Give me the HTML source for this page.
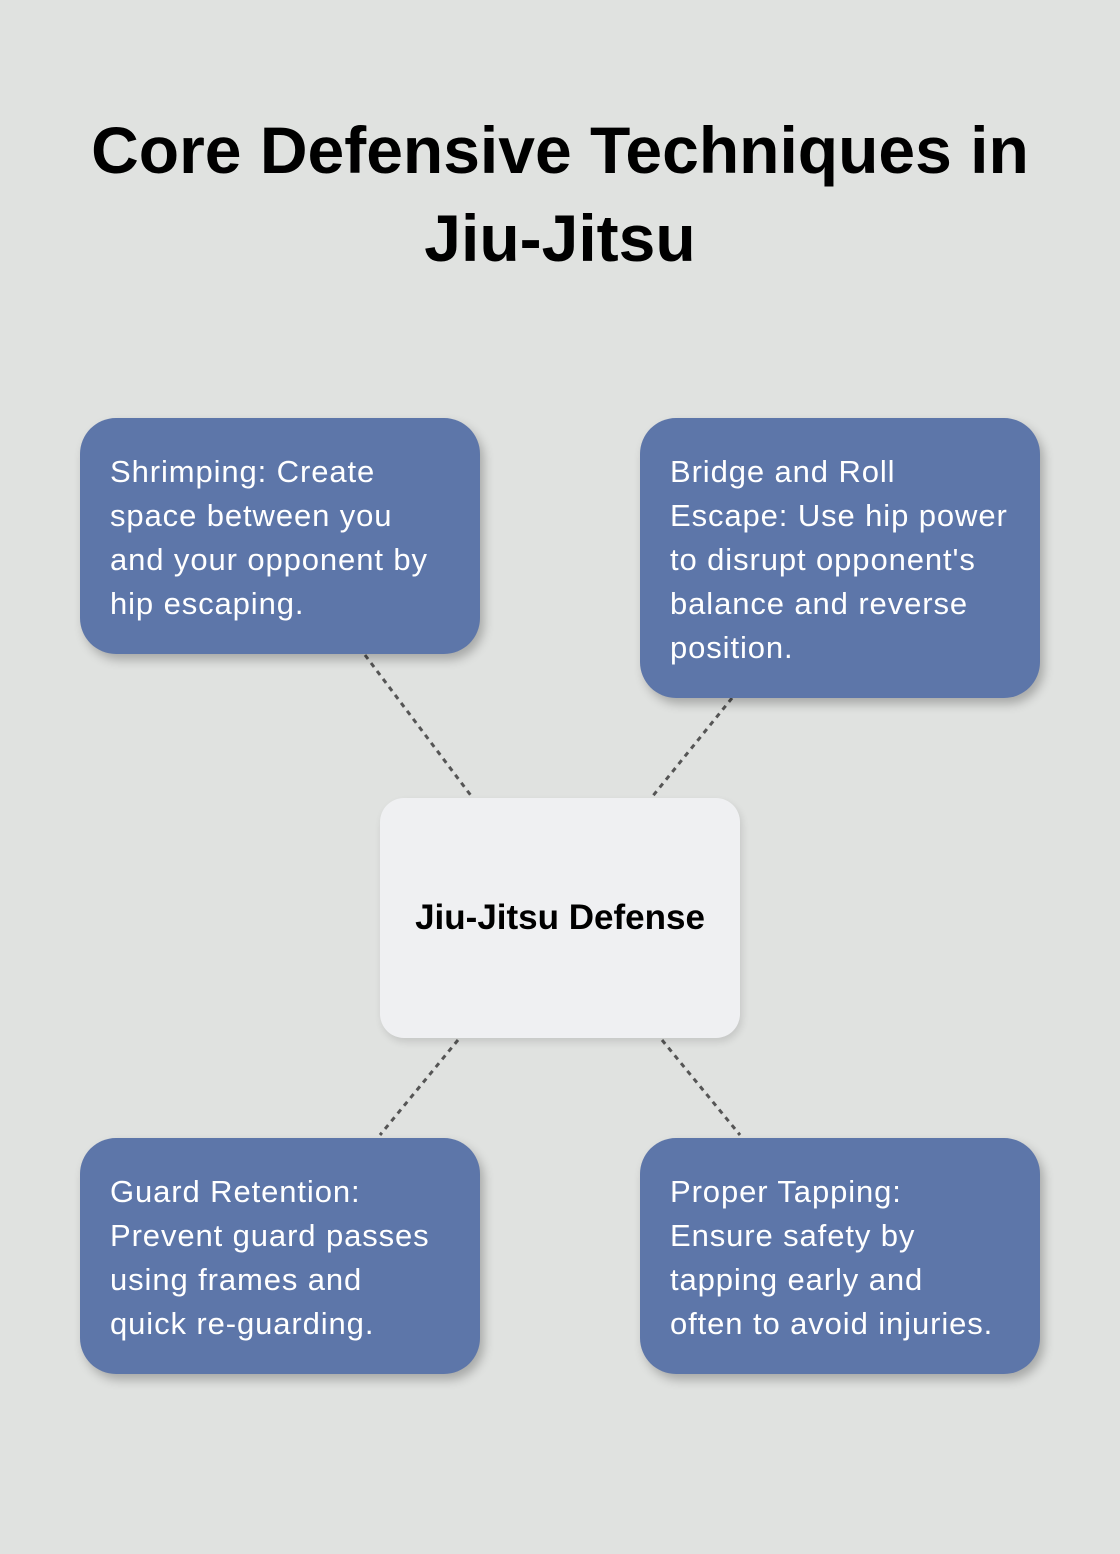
<!DOCTYPE html>
<html><head><meta charset="utf-8"><style>
body{margin:0;width:1120px;height:1554px;background:#e0e2e0;position:relative;overflow:hidden;font-family:"Liberation Sans",sans-serif}
h1{position:absolute;top:106px;left:0;width:1120px;text-align:center;margin:0;font-size:66px;line-height:88px;font-weight:bold;color:#000;white-space:nowrap}
.b{position:absolute;background:#5d76a9;border-radius:36px;color:#fff;font-size:31px;letter-spacing:0.9px;line-height:44px;padding:32px 0 0 30px;box-sizing:border-box;box-shadow:4px 6px 10px rgba(0,0,0,0.25);white-space:nowrap}
.c{position:absolute;left:380px;top:798px;width:360px;height:240px;background:#eff0f2;border-radius:24px;display:flex;align-items:center;justify-content:center;font-weight:bold;font-size:35px;box-shadow:2px 4px 8px rgba(0,0,0,0.12)}
svg{position:absolute;left:0;top:0}
</style></head><body>
<h1>Core Defensive Techniques in<br>Jiu-Jitsu</h1>
<svg width="1120" height="1554"><g stroke="#555" stroke-width="3" stroke-dasharray="5 5" fill="none">
<line x1="365" y1="655" x2="472" y2="797"/><line x1="732" y1="698" x2="652" y2="797"/>
<line x1="458" y1="1040" x2="380" y2="1135"/><line x1="662" y1="1040" x2="740" y2="1135"/></g></svg>
<div class="b" style="left:80px;top:418px;width:400px;height:236px">Shrimping: Create<br>space between you<br>and your opponent by<br>hip escaping.</div>
<div class="b" style="left:640px;top:418px;width:400px;height:280px">Bridge and Roll<br>Escape: Use hip power<br>to disrupt opponent's<br>balance and reverse<br>position.</div>
<div class="b" style="left:80px;top:1138px;width:400px;height:236px">Guard Retention:<br>Prevent guard passes<br>using frames and<br>quick re-guarding.</div>
<div class="b" style="left:640px;top:1138px;width:400px;height:236px">Proper Tapping:<br>Ensure safety by<br>tapping early and<br>often to avoid injuries.</div>
<div class="c">Jiu-Jitsu Defense</div>
</body></html>
